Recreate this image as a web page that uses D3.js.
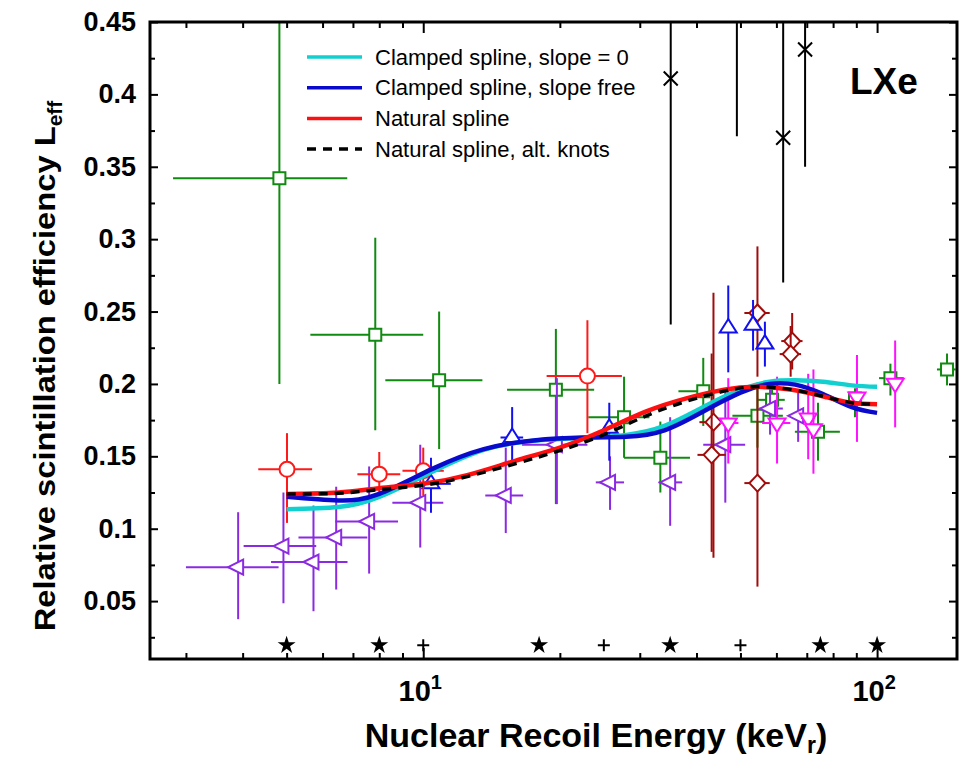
<!DOCTYPE html>
<html>
<head>
<meta charset="utf-8">
<script src="https://cdn.jsdelivr.net/npm/d3@7"></script>
<style>
body { margin: 0; background: #fff; }
svg { display: block; font-family: "Liberation Sans", Arial, Helvetica, sans-serif; }
</style>
</head>
<body>
<svg id="chart"></svg>
<script>
// points: [E, Leff, Elo, Ehi, Llo, Lhi]
const greenSquares = [
  [4.82, 0.342, 2.81, 6.8, 0.2, 0.5],
  [7.84, 0.234, 5.64, 10.0, 0.168, 0.301],
  [10.84, 0.2026, 8.25, 13.5, 0.155, 0.25],
  [19.6, 0.196, 15.3, 23.8, 0.117, 0.238],
  [27.7, 0.177, 23.1, 31.5, 0.149, 0.205],
  [33.3, 0.149, 27.7, 38.7, 0.125, 0.174],
  [41.4, 0.195, 36.5, 46.8, 0.171, 0.218],
  [54.5, 0.178, 48, 62, 0.156, 0.201],
  [58.7, 0.189, 54.5, 62.6, 0.182, 0.197],
  [74.1, 0.167, 65.9, 82.8, 0.147, 0.187],
  [89.4, 0.190, 87, 92, 0.177, 0.197],
  [107, 0.204, 101, 114.5, 0.192, 0.214],
  [142.6, 0.210, 135.5, 149, 0.199, 0.221]
];
const redCircles = [
  [5.01, 0.141, 4.33, 5.69, 0.104, 0.166],
  [8.0, 0.1377, 7.16, 8.9, 0.122, 0.153],
  [10.0, 0.140, 9.0, 11.1, 0.123, 0.156],
  [23.0, 0.2054, 18.7, 27.4, 0.166, 0.244]
];
const purpleTriangles = [
  [3.91, 0.0734, 3.0, 4.8, 0.0375, 0.1114],
  [4.92, 0.088, 4.02, 5.81, 0.0485, 0.125],
  [5.73, 0.077, 4.62, 6.81, 0.043, 0.116],
  [6.43, 0.094, 5.31, 7.53, 0.058, 0.129],
  [7.6, 0.105, 6.4, 8.8, 0.069, 0.143],
  [9.85, 0.118, 8.55, 11.07, 0.087, 0.158],
  [15.2, 0.123, 13.7, 16.6, 0.097, 0.156],
  [19.7, 0.158, 16.5, 23, 0.117, 0.204],
  [25.8, 0.132, 24.0, 27.7, 0.113, 0.15],
  [35.0, 0.132, 33.0, 37.2, 0.102, 0.177],
  [46.3, 0.158, 41.4, 51.2, 0.118, 0.197],
  [58.1, 0.183, 55, 62, 0.165, 0.197],
  [67, 0.178, 63.8, 72, 0.16, 0.194]
];
const blueTriangles = [
  [10.4, 0.131, 10.0, 11.5, 0.111, 0.149],
  [15.7, 0.163, 14.8, 16.6, 0.147, 0.184],
  [25.7, 0.1694, 25.0, 26.4, 0.147, 0.187],
  [47.0, 0.2386, 46, 48, 0.208, 0.268],
  [53.3, 0.2406, 52, 54.6, 0.223, 0.258],
  [56.6, 0.2275, 55.5, 57.7, 0.212, 0.243]
];
const darkRedDiamonds = [
  [43.6, 0.1736, 40.6, 46.8, 0.080, 0.263],
  [43.2, 0.151, 40.2, 46.4, 0.084, 0.221],
  [54.5, 0.249, 51, 58, 0.205, 0.295],
  [54.5, 0.1315, 51, 58, 0.060, 0.2],
  [65.0, 0.2296, 61.5, 68.5, 0.21, 0.249],
  [64.5, 0.2206, 61, 68, 0.205, 0.24]
];
const magentaTriangles = [
  [47.0, 0.173, 45, 49.5, 0.145, 0.204],
  [60.2, 0.173, 55.8, 64.4, 0.145, 0.205],
  [70.5, 0.1764, 68, 73, 0.148, 0.207],
  [72.4, 0.169, 70, 75, 0.138, 0.21],
  [90.3, 0.191, 88, 93, 0.16, 0.22],
  [109.6, 0.2005, 107, 112, 0.17, 0.23]
];
const blackCrosses = [
  [35.1, 0.411, 35.1, 35.1, 0.241, 0.6],
  [49.1, 0.5, 49.1, 49.1, 0.371, 0.7],
  [62.1, 0.370, 62.1, 62.1, 0.270, 0.6],
  [69.4, 0.431, 69.4, 69.4, 0.350, 0.6]
];

// spline curves, sampled from the figure: [E, Leff]
const cyanCurve = [[5,0.1135],[6.5,0.115],[8,0.122],[10.5,0.1395],[13.6,0.1545],[17.5,0.1608],[22.5,0.1627],[28,0.1648],[34,0.171],[41.4,0.184],[50,0.196],[58,0.2015],[66,0.2025],[76,0.2015],[88,0.199],[100,0.198]];
const blueCurve = [[5,0.122],[6.5,0.1195],[8,0.124],[10.5,0.1415],[13.6,0.155],[17.5,0.161],[22.5,0.163],[28,0.1635],[34,0.168],[41.4,0.181],[50,0.194],[58,0.2],[66,0.1995],[76,0.193],[88,0.184],[100,0.18]];
const redCurve = [[5,0.124],[6.5,0.125],[8,0.128],[10,0.131],[12.5,0.137],[16,0.147],[20,0.156],[25,0.168],[31,0.181],[38,0.19],[46,0.196],[54,0.198],[65,0.196],[77,0.191],[88,0.187],[100,0.186]];
const dashCurve = [[5,0.124],[6.5,0.1245],[8,0.127],[10,0.130],[12.5,0.136],[16,0.145],[20,0.154],[25,0.165],[31,0.178],[38,0.188],[46,0.195],[54,0.198],[65,0.196],[77,0.191],[88,0.187],[100,0.186]];

const starKnots = [5, 8, 18, 35, 75, 100];
const plusKnots = [10, 25, 50];
const knotLevel = 0.0195;

const yTicks = [0.05, 0.1, 0.15, 0.2, 0.25, 0.3, 0.35, 0.4, 0.45];
const yMinor = [0.025, 0.075, 0.125, 0.175, 0.225, 0.275, 0.325, 0.375, 0.425];
const xMajor = [10, 100];
const xMinor = [3, 4, 5, 6, 7, 8, 9, 20, 30, 40, 50, 60, 70, 80, 90];

const legendItems = [
  {label: "Clamped spline, slope = 0", color: "#12d0d0", dash: null},
  {label: "Clamped spline, slope free", color: "#0a0acc", dash: null},
  {label: "Natural spline", color: "#ff1010", dash: null},
  {label: "Natural spline, alt. knots", color: "#000", dash: "9,7"}
];

const W = 961, H = 758;
const m = {left: 150, right: 4, top: 22, bottom: 99};
const svg = d3.select("#chart").attr("width", W).attr("height", H);

const x = d3.scaleLog().domain([2.5, 150]).range([m.left, W - m.right]);
const y = d3.scaleLinear().domain([0.01, 0.45]).range([H - m.bottom, m.top]);

svg.append("defs").append("clipPath").attr("id", "plotclip")
  .append("rect")
  .attr("x", m.left).attr("y", m.top)
  .attr("width", W - m.right - m.left).attr("height", H - m.bottom - m.top);

const plot = svg.append("g").attr("clip-path", "url(#plotclip)");

// marker shapes
const shapes = {
  square: "M-6,-6H6V6H-6Z",
  circle: d3.symbol(d3.symbolCircle, Math.PI * 7.5 * 7.5)(),
  left: "M-10,0L5,-7.5L5,7.5Z",
  up: "M0,-9L8.5,4.5L-8.5,4.5Z",
  down: "M0,9L8.5,-4.5L-8.5,-4.5Z",
  diamond: "M0,-8.5L8,0L0,8.5L-8,0Z",
  cross: "M-7,-7L7,7M-7,7L7,-7"
};

function drawSeries(data, color, shape, width) {
  const g = plot.append("g");
  const pts = g.selectAll("g").data(data).join("g");
  pts.append("line")
    .attr("x1", d => x(d[2])).attr("x2", d => x(d[3]))
    .attr("y1", d => y(d[1])).attr("y2", d => y(d[1]))
    .attr("stroke", color).attr("stroke-width", width);
  pts.append("line")
    .attr("x1", d => x(d[0])).attr("x2", d => x(d[0]))
    .attr("y1", d => y(d[4])).attr("y2", d => y(d[5]))
    .attr("stroke", color).attr("stroke-width", width);
  pts.append("path")
    .attr("d", shapes[shape])
    .attr("transform", d => `translate(${x(d[0])},${y(d[1])})`)
    .attr("fill", shape === "cross" ? "none" : "#fff")
    .attr("stroke", color).attr("stroke-width", 2);
}

drawSeries(blackCrosses, "#000", "cross", 2);
drawSeries(greenSquares, "#108a10", "square", 2);
drawSeries(purpleTriangles, "#8a2be2", "left", 2);
drawSeries(darkRedDiamonds, "#a00c0c", "diamond", 2);
drawSeries(magentaTriangles, "#ff10ff", "down", 2);
drawSeries(blueTriangles, "#1010f0", "up", 2);
drawSeries(redCircles, "#ff1a1a", "circle", 2);

// spline curves
const line = d3.line().x(d => x(d[0])).y(d => y(d[1])).curve(d3.curveNatural);
plot.append("path").datum(cyanCurve).attr("d", line)
  .attr("fill", "none").attr("stroke", "#12d0d0").attr("stroke-width", 4.5);
plot.append("path").datum(blueCurve).attr("d", line)
  .attr("fill", "none").attr("stroke", "#0a0acc").attr("stroke-width", 4.5);
plot.append("path").datum(redCurve).attr("d", line)
  .attr("fill", "none").attr("stroke", "#ff1010").attr("stroke-width", 4.5);
plot.append("path").datum(dashCurve).attr("d", line)
  .attr("fill", "none").attr("stroke", "#000").attr("stroke-width", 3.5)
  .attr("stroke-dasharray", "9,7");

// knot markers
plot.selectAll(".star").data(starKnots).join("path")
  .attr("d", d3.symbol(d3.symbolStar, 100)())
  .attr("transform", d => `translate(${x(d)},${y(knotLevel)})`)
  .attr("fill", "#000");
plot.selectAll(".plus").data(plusKnots).join("path")
  .attr("d", "M-6,0H6M0,-6V6")
  .attr("transform", d => `translate(${x(d)},${y(knotLevel)})`)
  .attr("stroke", "#000").attr("stroke-width", 2);

// axes, ticks pointing inward
const yBottom = H - m.bottom, yTop = m.top, xLeft = m.left, xRight = W - m.right;
svg.append("g").attr("transform", `translate(0,${yBottom})`)
  .call(d3.axisBottom(x).tickValues(xMajor).tickSize(-11).tickFormat(""));
svg.append("g").attr("transform", `translate(0,${yBottom})`)
  .call(d3.axisBottom(x).tickValues(xMinor).tickSize(-6).tickFormat(""));
svg.append("g").attr("transform", `translate(0,${yTop})`)
  .call(d3.axisTop(x).tickValues(xMajor).tickSize(-11).tickFormat(""));
svg.append("g").attr("transform", `translate(0,${yTop})`)
  .call(d3.axisTop(x).tickValues(xMinor).tickSize(-6).tickFormat(""));
svg.append("g").attr("transform", `translate(${xLeft},0)`)
  .call(d3.axisLeft(y).tickValues(yTicks).tickSize(-8).tickFormat(""));
svg.append("g").attr("transform", `translate(${xLeft},0)`)
  .call(d3.axisLeft(y).tickValues(yMinor).tickSize(-5).tickFormat(""));
svg.append("g").attr("transform", `translate(${xRight},0)`)
  .call(d3.axisRight(y).tickValues(yTicks).tickSize(-8).tickFormat(""));
svg.append("g").attr("transform", `translate(${xRight},0)`)
  .call(d3.axisRight(y).tickValues(yMinor).tickSize(-5).tickFormat(""));
svg.selectAll(".domain").remove();
svg.selectAll(".tick line").attr("stroke", "#000").attr("stroke-width", 2);

svg.append("rect")
  .attr("x", xLeft).attr("y", yTop)
  .attr("width", xRight - xLeft).attr("height", yBottom - yTop)
  .attr("fill", "none").attr("stroke", "#000").attr("stroke-width", 3);

// tick labels
svg.selectAll(".ylab").data(yTicks).join("text")
  .attr("x", 136).attr("y", d => y(d) + 9)
  .attr("text-anchor", "end")
  .attr("font-size", 27).attr("font-weight", "bold")
  .text(d => String(d));

const xl = svg.selectAll(".xlab").data(xMajor).join("text")
  .attr("x", d => x(d) - 3).attr("y", 701)
  .attr("text-anchor", "middle")
  .attr("font-size", 29).attr("font-weight", "bold");
xl.append("tspan").text("10");
xl.append("tspan").attr("dy", -12).attr("font-size", 20).text(d => String(Math.round(Math.log10(d))));

// axis titles
const yt = svg.append("text")
  .attr("transform", `translate(55,366) rotate(-90)`)
  .attr("text-anchor", "middle")
  .attr("font-size", 30).attr("font-weight", "bold");
yt.append("tspan").attr("textLength", 505).attr("lengthAdjust", "spacingAndGlyphs")
  .text("Relative scintillation efficiency  L");
yt.append("tspan").attr("dy", 7).attr("font-size", 21).text("eff");

const xt = svg.append("text")
  .attr("x", 596).attr("y", 747)
  .attr("text-anchor", "middle")
  .attr("font-size", 34).attr("font-weight", "bold");
xt.append("tspan").text("Nuclear Recoil Energy (keV");
xt.append("tspan").attr("dy", 6).attr("font-size", 23).text("r");
xt.append("tspan").attr("dy", -6).text(")");

svg.append("text")
  .attr("x", 850).attr("y", 94)
  .attr("font-size", 37).attr("font-weight", "bold")
  .text("LXe");

// legend
const lg = svg.append("g");
const rows = lg.selectAll("g").data(legendItems).join("g")
  .attr("transform", (d, i) => `translate(307,${57 + i * 30.7})`);
rows.append("line")
  .attr("x1", 0).attr("x2", 55).attr("y1", 0).attr("y2", 0)
  .attr("stroke", d => d.color).attr("stroke-width", 3.5)
  .attr("stroke-dasharray", d => d.dash);
rows.append("text")
  .attr("x", 68).attr("y", 7.5)
  .attr("font-size", 22)
  .text(d => d.label);
</script>
</body>
</html>
